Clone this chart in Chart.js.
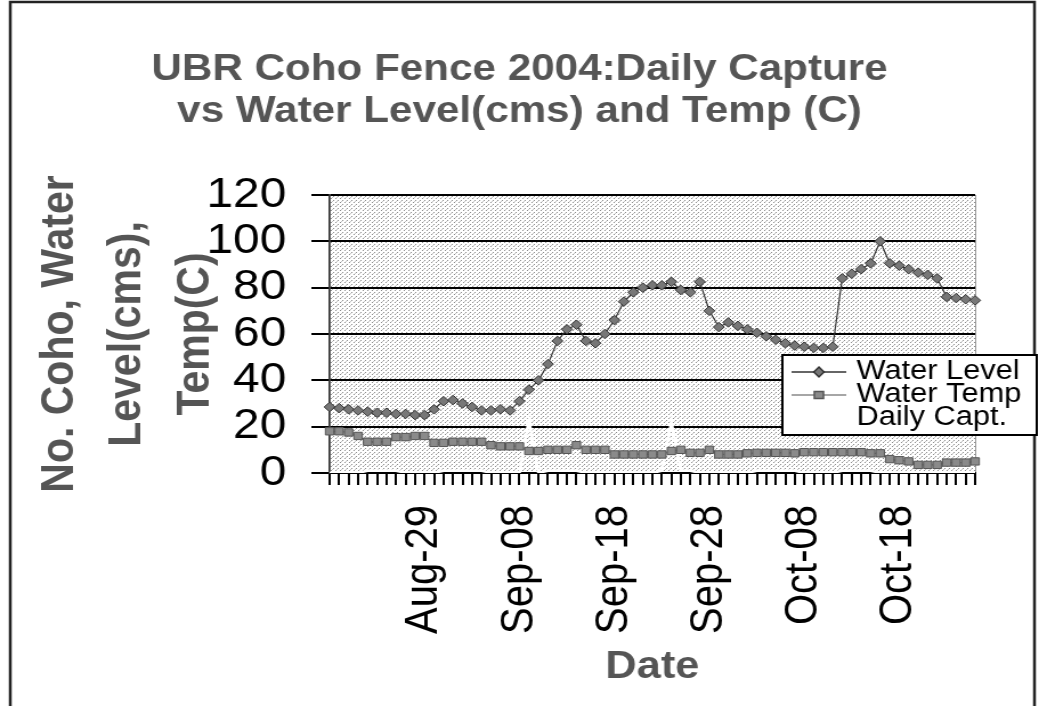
<!DOCTYPE html>
<html>
<head>
<meta charset="utf-8">
<title>UBR Coho Fence 2004</title>
<script src="https://cdn.jsdelivr.net/npm/chart.js@4/dist/chart.umd.min.js"></script>
<style>
  html, body { margin: 0; padding: 0; background: #fff; }
  #wrap { position: relative; width: 1039px; height: 706px; }
</style>
</head>
<body>
<div id="wrap">
  <!-- drawn at 911 wide and stretched, the scanned original is wider than tall -->
  <canvas id="cohoChart" width="911" height="706" style="width:1039px;height:706px"></canvas>
</div>
<script>
// daily categories, Aug-19 .. Oct-26
const dates = [
  'Aug-19','Aug-20','Aug-21','Aug-22','Aug-23','Aug-24','Aug-25','Aug-26','Aug-27','Aug-28',
  'Aug-29','Aug-30','Aug-31','Sep-01','Sep-02','Sep-03','Sep-04','Sep-05','Sep-06','Sep-07',
  'Sep-08','Sep-09','Sep-10','Sep-11','Sep-12','Sep-13','Sep-14','Sep-15','Sep-16','Sep-17',
  'Sep-18','Sep-19','Sep-20','Sep-21','Sep-22','Sep-23','Sep-24','Sep-25','Sep-26','Sep-27',
  'Sep-28','Sep-29','Sep-30','Oct-01','Oct-02','Oct-03','Oct-04','Oct-05','Oct-06','Oct-07',
  'Oct-08','Oct-09','Oct-10','Oct-11','Oct-12','Oct-13','Oct-14','Oct-15','Oct-16','Oct-17',
  'Oct-18','Oct-19','Oct-20','Oct-21','Oct-22','Oct-23','Oct-24','Oct-25','Oct-26'
];

// only these dates get a label on the axis
const tickLabels = ['Aug-29', 'Sep-08', 'Sep-18', 'Sep-28', 'Oct-08', 'Oct-18'];

const waterLevel = [
  28.5, 28, 27.5, 27, 26.5, 26, 26, 25.5, 25.5, 25,
  25, 27.5, 31, 31.5, 30, 28.5, 27, 27, 27.5, 27,
  31, 36, 40, 47, 57, 62, 64, 57, 56, 60,
  66, 74, 78, 80, 81, 81, 82.5, 79, 78, 82.5,
  70, 63, 65, 63.5, 62, 60.5, 59, 57.5, 56, 55,
  54.5, 54, 54, 54.5, 84, 86, 88, 90.5, 100, 90.5,
  89.5, 88, 86.5, 85.5, 84, 76, 75.5, 75, 74.5
];

const waterTemp = [
  18, 18, 17.5, 16, 13.5, 13.5, 13.5, 15.5, 15.5, 16,
  16, 13, 13, 13.5, 13.5, 13.5, 13.5, 12, 11.5, 11.5,
  11.5, 9.5, 9.5, 10, 10, 10, 12, 10, 10, 10,
  8, 8, 8, 8, 8, 8, 9.5, 10, 8.7, 8.7,
  10, 8, 8, 8, 8.5, 8.7, 8.7, 8.7, 8.7, 8.5,
  9, 9, 9, 9, 9, 9, 9, 8.5, 8.5, 6,
  5.5, 5, 3.5, 3.5, 3.5, 4.5, 4.5, 4.5, 5
];

// plotted in white, so it only shows where it crosses something
const dailyCapt = [
  0, 0, 0, 0, 1, 1, 1, 1, 0, 0,
  0, 0, 1, 1, 1, 1, 1, 0, 0, 0,
  0, 23, 0, 1, 1, 1, 1, 0, 0, 0,
  0, 0, 0, 0, 0, 1, 22, 1, 1, 0,
  0, 0, 0, 0, 0, 1, 1, 1, 1, 1,
  0, 0, 0, 0, 1, 1, 1, 1, 0, 0,
  0, 0, 0, 0, 0, 0, 0, 0, 0
];

const FONT = "'Liberation Sans', Arial, sans-serif";

// stippled grey plot background like the old Excel fill
function makeStipple(ctx) {
  const c = document.createElement('canvas');
  c.width = 4; c.height = 4;
  const g = c.getContext('2d');
  g.fillStyle = '#ffffff';
  g.fillRect(0, 0, 4, 4);
  g.fillStyle = '#8c8c8c';
  g.fillRect(0, 0, 1, 1);
  g.fillRect(2, 2, 1, 1);
  g.fillStyle = '#c4c4c4';
  g.fillRect(3, 1, 1, 1);
  return ctx.createPattern(c, 'repeat');
}

const background = {
  id: 'background',
  beforeDraw(chart) {
    const {ctx, chartArea: a} = chart;
    ctx.save();
    // page frame
    ctx.strokeStyle = '#222';
    ctx.lineWidth = 2.5;
    ctx.strokeRect(9, 2, 898, 740);
    // plot area
    ctx.fillStyle = makeStipple(ctx);
    ctx.fillRect(a.left, a.top, a.right - a.left, a.bottom - a.top);
    ctx.strokeStyle = '#999';
    ctx.lineWidth = 1;
    ctx.strokeRect(a.left + 0.5, a.top + 0.5, a.right - a.left, a.bottom - a.top);
    ctx.restore();
  }
};

// legend box sitting over the right side of the plot
const legendBox = {
  id: 'legendBox',
  afterDraw(chart) {
    const ctx = chart.ctx;
    const x = 686, y = 355, w = 223, h = 80;
    ctx.save();
    ctx.fillStyle = '#fff';
    ctx.fillRect(x, y, w, h);
    ctx.strokeStyle = '#000';
    ctx.lineWidth = 2;
    ctx.strokeRect(x, y, w, h);
    ctx.font = '27px ' + FONT;
    ctx.textBaseline = 'middle';
    chart.data.datasets.forEach((ds, i) => {
      const cy = y + 17 + i * 23;
      ctx.strokeStyle = ds.borderColor;
      ctx.lineWidth = 1.5;
      ctx.beginPath();
      ctx.moveTo(x + 8, cy);
      ctx.lineTo(x + 56, cy);
      ctx.stroke();
      const mx = x + 32;
      if (ds.pointStyle === 'rectRot') {
        ctx.fillStyle = ds.pointBackgroundColor;
        ctx.strokeStyle = ds.pointBorderColor;
        ctx.beginPath();
        ctx.moveTo(mx, cy - 5); ctx.lineTo(mx + 4.5, cy);
        ctx.lineTo(mx, cy + 5); ctx.lineTo(mx - 4.5, cy);
        ctx.closePath();
        ctx.fill(); ctx.stroke();
      } else if (ds.pointStyle === 'rect') {
        ctx.fillStyle = ds.pointBackgroundColor;
        ctx.strokeStyle = ds.pointBorderColor;
        ctx.fillRect(mx - 4, cy - 3.5, 8, 7);
        ctx.strokeRect(mx - 4, cy - 3.5, 8, 7);
      }
      ctx.fillStyle = '#000';
      ctx.fillText(ds.label, x + 65, cy);
    });
    ctx.restore();
  }
};

const ctx = document.getElementById('cohoChart').getContext('2d');

new Chart(ctx, {
  type: 'line',
  data: {
    labels: dates,
    datasets: [{
      label: 'Water Level',
      data: waterLevel,
      borderColor: '#333',
      borderWidth: 1.2,
      pointStyle: 'rectRot',
      pointRadius: 4.8,
      pointBackgroundColor: '#777',
      pointBorderColor: '#333',
      pointBorderWidth: 1
    }, {
      label: 'Water Temp',
      data: waterTemp,
      borderColor: '#888',
      borderWidth: 1.2,
      pointStyle: 'rect',
      pointRadius: 5.2,
      pointBackgroundColor: '#8a8a8a',
      pointBorderColor: '#555',
      pointBorderWidth: 1
    }, {
      label: 'Daily Capt.',
      data: dailyCapt,
      borderColor: '#fff',
      borderWidth: 2.5,
      pointRadius: 0
    }]
  },
  options: {
    responsive: false,
    animation: false,
    layout: { padding: 0 },
    plugins: {
      legend: { display: false },
      tooltip: { enabled: false },
      title: {
        display: true,
        text: ['UBR Coho Fence 2004:Daily Capture', 'vs Water Level(cms) and Temp (C)'],
        color: '#555',
        font: { family: FONT, size: 37, weight: 'bold', lineHeight: 1.135 },
        padding: { top: 49, bottom: 62 }
      }
    },
    scales: {
      x: {
        offset: false,
        grid: { drawOnChartArea: false, drawTicks: true, tickLength: 12, color: '#000', lineWidth: 2 },
        border: { display: true, color: '#000', width: 2 },
        ticks: {
          autoSkip: false,
          minRotation: 90,
          maxRotation: 90,
          padding: 20,
          color: '#000',
          font: { family: FONT, size: 40 },
          callback: function (value) {
            const label = this.getLabelForValue(value);
            return tickLabels.includes(label) ? label : '';
          }
        },
        title: {
          display: true,
          text: 'Date',
          color: '#555',
          font: { family: FONT, size: 38, weight: 'bold', lineHeight: 1.2 },
          padding: { top: 0, bottom: 16 }
        },
        afterFit(scale) {
          scale.height = 233;
          // keep the plot's right edge where the original has it
          scale.paddingLeft = 0;
          scale.paddingRight = 56;
        }
      },
      y: {
        min: 0,
        max: 120,
        grid: { color: '#000', lineWidth: 2, tickLength: 16 },
        border: { display: true, color: '#333', width: 1.5 },
        ticks: {
          stepSize: 20,
          autoSkip: false,
          padding: 22,
          color: '#000',
          font: { family: FONT, size: 42 }
        },
        title: {
          display: true,
          text: ['No. Coho, Water', 'Level(cms),', 'Temp(C)'],
          color: '#555',
          font: { family: FONT, size: 41, weight: 'bold', lineHeight: 1.45 },
          padding: { top: 23, bottom: 0 }
        },
        afterFit(scale) { scale.width = 289; }
      }
    }
  },
  plugins: [background, legendBox]
});
</script>
</body>
</html>
